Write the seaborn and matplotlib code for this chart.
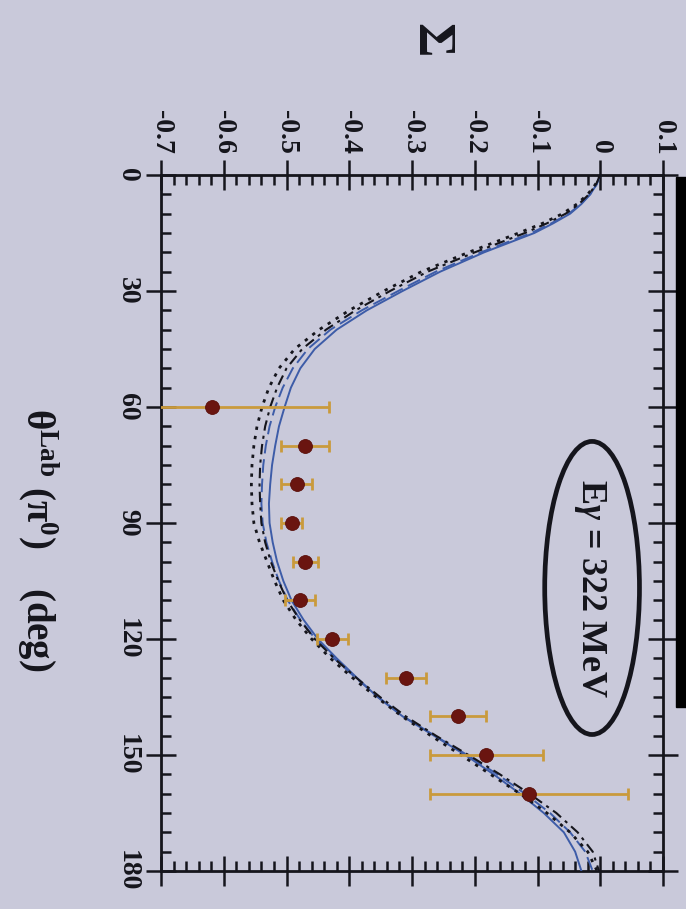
import numpy as np
import pandas as pd
import matplotlib
matplotlib.use("Agg")
import matplotlib.pyplot as plt
import seaborn as sns
from matplotlib.patches import Ellipse, Rectangle
from matplotlib.ticker import MultipleLocator

# ---------------- data ----------------
theta_curve = [0, 2.5, 5, 7.5, 10, 12.5, 15, 17.5, 20, 25, 30, 35, 40, 45, 50, 55, 60, 65, 70,
               75, 80, 85, 90, 95, 100, 105, 110, 115, 120, 125, 130, 135, 140, 145, 150,
               155, 160, 165, 170, 175, 180]
sigma_solid = [0.0, -0.006, -0.016, -0.03, -0.048, -0.075, -0.105, -0.145, -0.185, -0.255,
               -0.315, -0.372, -0.42, -0.455, -0.478, -0.493, -0.503, -0.512, -0.518,
               -0.523, -0.526, -0.528, -0.527, -0.522, -0.515, -0.505, -0.492, -0.473,
               -0.45, -0.42, -0.388, -0.355, -0.315, -0.265, -0.215, -0.17, -0.128, -0.09,
               -0.058, -0.04, -0.03]
sigma_dashed = [0.0, -0.006, -0.016, -0.031, -0.05, -0.078, -0.11, -0.15, -0.19, -0.262,
                -0.322, -0.38, -0.43, -0.466, -0.49, -0.506, -0.518, -0.527, -0.533,
                -0.537, -0.539, -0.54, -0.538, -0.532, -0.523, -0.512, -0.498, -0.478,
                -0.454, -0.424, -0.39, -0.354, -0.314, -0.264, -0.212, -0.164, -0.12,
                -0.08, -0.048, -0.024, -0.012]
sigma_dashdot = [0.0, -0.007, -0.018, -0.034, -0.055, -0.085, -0.12, -0.16, -0.2, -0.275,
                 -0.335, -0.39, -0.437, -0.475, -0.5, -0.515, -0.526, -0.534, -0.539,
                 -0.542, -0.543, -0.542, -0.54, -0.534, -0.525, -0.513, -0.499, -0.479,
                 -0.455, -0.424, -0.389, -0.351, -0.31, -0.262, -0.21, -0.16, -0.113,
                 -0.07, -0.036, -0.012, -0.002]
sigma_dotted = [0.0, -0.008, -0.02, -0.037, -0.06, -0.092, -0.13, -0.17, -0.21, -0.285,
                -0.345, -0.4, -0.448, -0.487, -0.512, -0.528, -0.539, -0.547, -0.552,
                -0.555, -0.556, -0.555, -0.552, -0.543, -0.531, -0.519, -0.505, -0.485,
                -0.46, -0.43, -0.395, -0.357, -0.316, -0.27, -0.222, -0.175, -0.128,
                -0.085, -0.048, -0.02, -0.005]

theta_data = [60, 70, 80, 90, 100, 110, 120, 130, 140, 150, 160]
sigma_data = [-0.618, -0.470, -0.484, -0.492, -0.470, -0.478, -0.427, -0.309, -0.227,
              -0.182, -0.114]
sigma_err = [0.185, 0.038, 0.025, 0.016, 0.02, 0.024, 0.025, 0.032, 0.045, 0.09, 0.158]

sigma_ticks = [-0.7, -0.6, -0.5, -0.4, -0.3, -0.2, -0.1, 0.0, 0.1]
sigma_tick_labels = ["-0.7", "-0.6", "-0.5", "-0.4", "-0.3", "-0.2", "-0.1", "0", "0.1"]
theta_ticks = [0, 30, 60, 90, 120, 150, 180]
theta_tick_labels = ["0", "30", "60", "90", "120", "150", "180"]

models = ["solid", "dashed", "dashdot", "dotted"]
curve_df = pd.concat([
    pd.DataFrame({"theta": theta_curve, "sigma": s, "model": m})
    for m, s in zip(models, [sigma_solid, sigma_dashed, sigma_dashdot, sigma_dotted])
], ignore_index=True)
data_df = pd.DataFrame({"theta": theta_data, "sigma": sigma_data, "err": sigma_err})

# ---------------- style ----------------
sns.set_theme(style="ticks")
plt.rcParams["font.family"] = ["Liberation Serif", "DejaVu Serif"]
plt.rcParams["mathtext.fontset"] = "custom"
plt.rcParams["mathtext.rm"] = "Liberation Serif:bold"
plt.rcParams["mathtext.it"] = "Liberation Serif:italic:bold"
plt.rcParams["mathtext.bf"] = "Liberation Serif:bold"

BG = "#c9c9da"
INK = "#15151c"
BLUE = "#3d5ca8"

fig = plt.figure(figsize=(6.86, 9.09), dpi=100, facecolor=BG)
ax = fig.add_axes([161 / 686, 1 - 871 / 909, (663 - 161) / 686, (871 - 175) / 909])
ax.set_facecolor(BG)

palette = {"solid": BLUE, "dashed": BLUE, "dashdot": INK, "dotted": INK}
dashes = {"solid": "", "dashed": (7, 3), "dashdot": (5, 2.5, 1.5, 2.5), "dotted": (1.2, 2.2)}
sizes = {"solid": 1.4, "dashed": 1.4, "dashdot": 1.5, "dotted": 2.0}
sns.lineplot(data=curve_df, x="sigma", y="theta", hue="model", style="model",
             size="model", sizes=sizes, palette=palette, dashes=dashes,
             sort=False, orient="y", estimator=None, legend=False, ax=ax, zorder=3)

ax.errorbar(data_df["sigma"], data_df["theta"], xerr=data_df["err"], fmt="none",
            ecolor="#c99a3c", elinewidth=2.0, capsize=4, capthick=2.0, zorder=4)
sns.scatterplot(data=data_df, x="sigma", y="theta", color="#6a1510", s=100,
                edgecolor="#5a0f0a", linewidth=0.6, ax=ax, zorder=5, legend=False)

ax.set_xlim(-0.7, 0.1)
ax.set_ylim(180, 0)
ax.set_xticks(sigma_ticks)
ax.set_xticklabels(sigma_tick_labels)
ax.set_yticks(theta_ticks)
ax.set_yticklabels(theta_tick_labels)
ax.xaxis.set_minor_locator(MultipleLocator(0.02))
ax.yaxis.set_minor_locator(MultipleLocator(5))
ax.set_xlabel("")
ax.set_ylabel("")

ax.xaxis.set_ticks_position("both")
ax.yaxis.set_ticks_position("both")
ax.tick_params(axis="x", labeltop=True, labelbottom=False)
ax.tick_params(which="major", direction="inout", length=22, width=1.8, color=INK, pad=4)
ax.tick_params(which="minor", direction="in", length=7, width=1.8, color=INK)
for sp in ax.spines.values():
    sp.set_linewidth(2.0)
    sp.set_color(INK)

for lab in ax.get_xticklabels():
    lab.set_rotation(-90)
    lab.set_fontsize(20)
    lab.set_fontweight("bold")
    lab.set_color(INK)
    lab.set_ha("center")
    lab.set_va("bottom")
for lab in ax.get_yticklabels():
    lab.set_rotation(-90)
    lab.set_fontsize(20)
    lab.set_fontweight("bold")
    lab.set_color(INK)
    lab.set_ha("right")
    lab.set_va("center")

# annotation
ax.add_patch(Ellipse((-0.013, 106.8), 0.151, 75.8, fill=False, lw=3.4, ec=INK, zorder=6))
ax.text(-0.016, 106.8, r"E$\gamma$ = 322 MeV", rotation=-90, ha="center", va="center",
        fontsize=26, fontweight="bold", color=INK, zorder=7)

# axis titles
fig.text(430 / 686, 1 - 40 / 909, "Σ", rotation=-90, ha="center", va="center",
         fontsize=38, fontweight="bold", color=INK)
fig.text(38 / 686, 1 - 540 / 909, r"θ$^{\rm Lab}$ (π$^{\rm 0}$)    (deg)",
         rotation=-90, ha="center", va="center", fontsize=28, fontweight="bold", color=INK)

# black bar at right edge
fig.add_artist(Rectangle((676 / 686, 1 - 707 / 909), 10 / 686, (707 - 177) / 909,
                         transform=fig.transFigure, color="black"))

fig.savefig("out.png", dpi=100, facecolor=BG)
